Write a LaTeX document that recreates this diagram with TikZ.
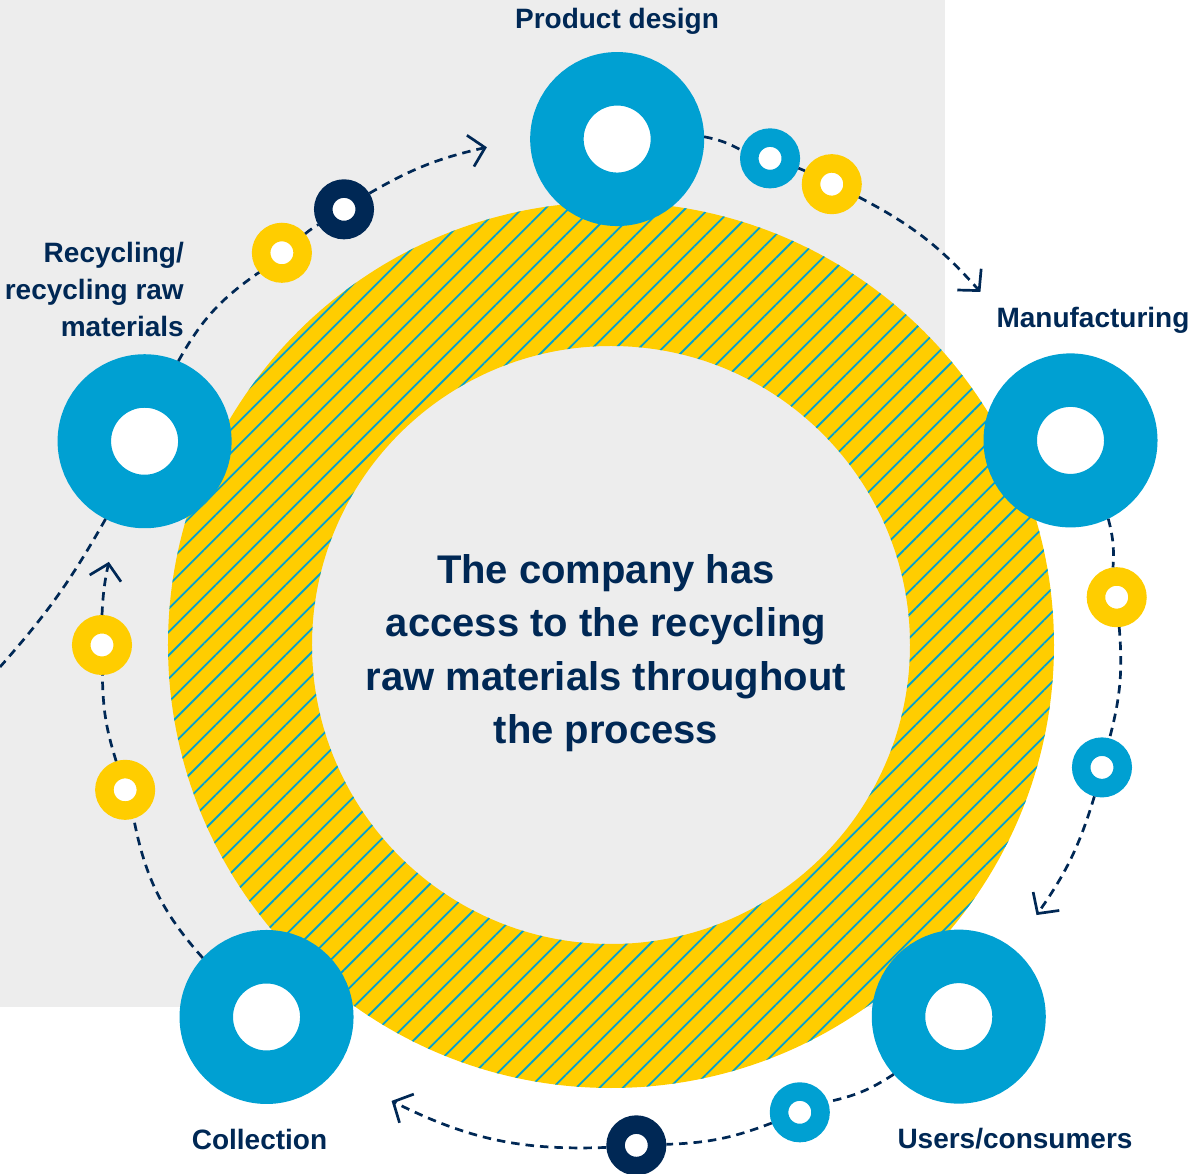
\documentclass[tikz,border=0pt]{standalone}
\usepackage{fontspec}
\setmainfont{Liberation Sans}
\usetikzlibrary{arrows.meta,patterns.meta}
\definecolor{ringblue}{HTML}{00A0D2}
\definecolor{ringyellow}{HTML}{FFCD00}
\definecolor{navy}{HTML}{002855}
\definecolor{panelgray}{HTML}{EDEDED}
\tikzset{
  bigring/.style={circle, draw=ringblue, fill=white, line width=53.5pt,
    minimum size=120.5pt, inner sep=0pt},
  dotring/.style={circle, draw=#1, fill=white, line width=18.5pt,
    minimum size=41.5pt, inner sep=0pt},
  flow/.style={navy, line width=2.7pt, dash pattern=on 8.5pt off 6pt},
  flowarrow/.style={flow, -{Straight Barb[length=15pt,width=32pt]}},
  steplabel/.style={text=navy, inner sep=0pt,
    font=\bfseries\fontsize{28}{37}\selectfont},
}
\begin{document}
\begin{tikzpicture}[x=1pt,y=1pt]
  \useasboundingbox (-611,-529) rectangle (593,645);
  \fill[panelgray] (-611,-362) rectangle (334,645);
  % hatched ring
  \fill[ringyellow, even odd rule] (0,0) circle[radius=443] (0,0) circle[radius=299];
  \fill[pattern={Lines[angle=45,distance=16.5pt,line width=1.8pt]},
    pattern color=ringblue, even odd rule]
    (0,0) circle[radius=443] (0,0) circle[radius=299];
  % the five stages
  \node[bigring] (design) at (89.3:506) {};
  \node[bigring] (making) at (24.0:503) {};
  \node[bigring] (users) at (-46.9:509) {};
  \node[bigring] (collect) at (-132.8:507) {};
  \node[bigring] (recycle) at (156.4:509) {};
  % small rings
  \node[dotring=ringblue] (d1) at (71.9:512) {};
  \node[dotring=ringyellow] (d2) at (64.4:511) {};
  \node[dotring=ringyellow] (d3) at (5.4:508) {};
  \node[dotring=ringblue] (d4) at (-14.0:506) {};
  \node[dotring=ringblue] (d5) at (-68.0:504) {};
  \node[dotring=navy] (d6) at (-87.1:501) {};
  \node[dotring=ringyellow] (d7) at (-163.4:507) {};
  \node[dotring=ringyellow] (d8) at (180:509) {};
  \node[dotring=ringyellow] (d9) at (130.0:512) {};
  \node[dotring=navy] (d10) at (121.5:511) {};
  \coordinate (t1) at (43.7:511);
  \coordinate (t2) at (-32.4:504);
  \coordinate (t3) at (-115.7:506);
  \coordinate (t4) at (170.6:509);
  \coordinate (t5) at (104.0:513);
  \coordinate (leftend) at (-611,-22);
  % dashed flow
  \draw[flow] (design) to[bend left=8.7] (d1);
  \draw[flow] (d1) to[bend left=3.7] (d2);
  \draw[flowarrow] (d2) to[bend left=10.4] (t1);
  \draw[flow] (making) to[bend left=9.3] (d3);
  \draw[flow] (d3) to[bend left=9.7] (d4);
  \draw[flowarrow] (d4) to[bend left=9.2] (t2);
  \draw[flow] (users) to[bend left=10.5] (d5);
  \draw[flow] (d5) to[bend left=9.5] (d6);
  \draw[flowarrow] (d6) to[bend left=14.3] (t3);
  \draw[flow] (collect) to[bend left=15.3] (d7);
  \draw[flow] (d7) to[bend left=8.3] (d8);
  \draw[flowarrow] (d8) to[bend left=4.7] (t4);
  \draw[flow] (recycle) to[bend left=13.2] (d9);
  \draw[flow] (d9) to[bend left=4.2] (d10);
  \draw[flowarrow] (d10) to[bend left=8.7] (t5);
  \draw[flow] (recycle) to[bend left=6] (leftend);
  % labels
  \node[steplabel, anchor=base] (designlabel) at (6,616) {Product design};
  \node[steplabel, anchor=base] (makinglabel) at (482,317) {Manufacturing};
  \node[steplabel, anchor=north east, align=right] (recyclelabel) at (-427,403)
    {Recycling/\\recycling raw\\materials};
  \node[steplabel, anchor=base] (collectlabel) at (-351.5,-504) {Collection};
  \node[steplabel, anchor=base] (userslabel) at (404,-503) {Users/consumers};
  \node[text=navy, align=center, inner sep=0pt,
    font=\bfseries\fontsize{40}{53.5}\selectfont] (core) at (-5,-8)
    {The company has\\access to the recycling\\raw materials throughout\\the process};
\end{tikzpicture}
\end{document}
